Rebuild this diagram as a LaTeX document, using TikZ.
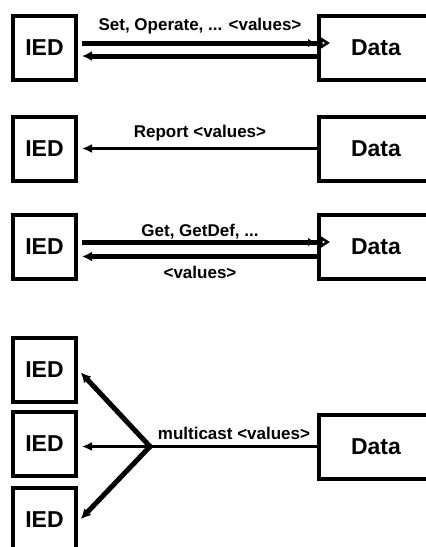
\documentclass[tikz,border=0pt]{standalone}
\usepackage{fontspec}
\setmainfont{Liberation Sans}
\usetikzlibrary{arrows.meta, positioning}

\begin{document}
\begin{tikzpicture}[x=1pt, y=-1pt,
  iedbox/.style={draw, line width=4pt, minimum width=63pt, minimum height=64pt, inner sep=0pt, font=\fontsize{23}{23}\selectfont\bfseries},
  databox/.style={iedbox, minimum width=114pt},
  msglabel/.style={font=\fontsize{17}{17}\selectfont\bfseries, inner sep=0pt},
  thickarrow/.style={-{Latex[length=10pt,width=10pt]}, line width=5pt, shorten >=4pt},
  thinarrow/.style={-{Latex[length=10pt,width=9pt]}, line width=3pt, shorten >=4pt},
  reqarrow/.style={-{Latex[length=7pt,width=9pt,sep=5pt]Triangle[open,length=10pt,width=12pt,line width=2.5pt]}, line width=5pt, shorten <=4pt, shorten >=-13pt}
]
\useasboundingbox (0,0) rectangle (426,547);

\node[iedbox] (ied1) at (44.5,47.5) {IED};
\node[databox] (data1) at (376,47.5) {Data};
\node[iedbox] (ied2) at (44.5,148.5) {IED};
\node[databox] (data2) at (376,148.5) {Data};
\node[iedbox] (ied3) at (44.5,246.5) {IED};
\node[databox] (data3) at (376,246.5) {Data};
\node[iedbox] (ied4a) at (44.5,369.5) {IED};
\node[iedbox] (ied4b) at (44.5,444) {IED};
\node[iedbox] (ied4c) at (44.5,520) {IED};
\node[databox] (data4) at (376,446.5) {Data};

% set / operate
\draw[reqarrow] ([yshift=4.5pt]ied1.east) -- ([yshift=4.5pt]data1.west);
\draw[thickarrow] ([yshift=-8.5pt]data1.west) -- ([yshift=-8.5pt]ied1.east);
\node[msglabel] (setlbl) at (200,26) {Set, Operate, ... <values>};

% report
\draw[thinarrow] (data2.west) -- (ied2.east);
\node[msglabel] (replbl) at (200,133) {Report <values>};

% get
\draw[reqarrow] ([yshift=4.5pt]ied3.east) -- ([yshift=4.5pt]data3.west);
\draw[thickarrow] ([yshift=-10pt]data3.west) -- ([yshift=-10pt]ied3.east);
\node[msglabel] (getlbl) at (200,232) {Get, GetDef, ...};
\node[msglabel] (vallbl) at (200,272) {<values>};

% multicast
\coordinate (fork) at (150,446.5);
\draw[line width=3pt] (data4.west) -- (fork);
\draw[thinarrow] (fork) -- (fork -| ied4b.east);
\draw[thickarrow, line cap=round] (fork) -- (ied4a.east);
\draw[thickarrow, line cap=round] (fork) -- ([yshift=-2pt]ied4c.east);
\node[msglabel] (mclbl) at (234,433) {multicast <values>};
\end{tikzpicture}
\end{document}
